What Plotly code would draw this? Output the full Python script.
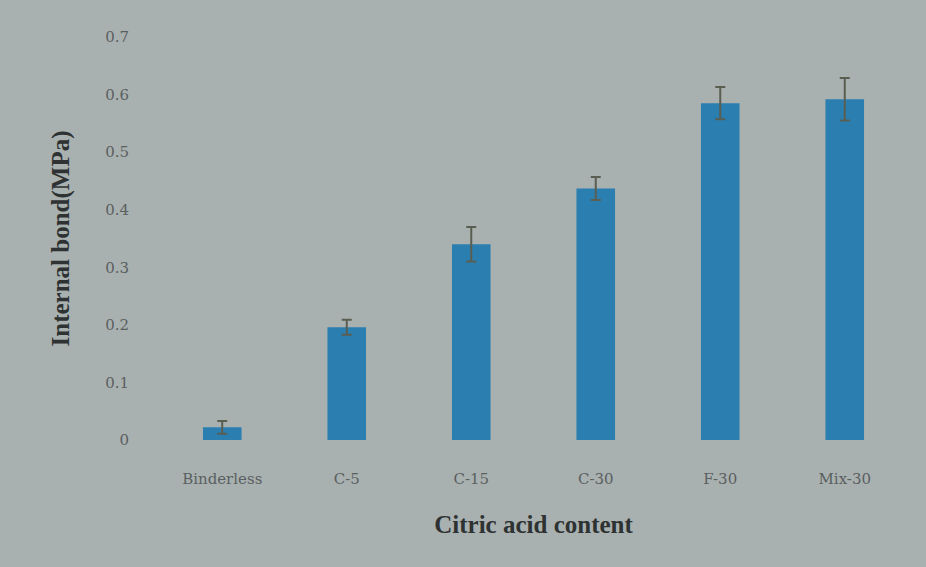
import plotly.graph_objects as go

categories = ["Binderless", "C-5", "C-15", "C-30", "F-30", "Mix-30"]
values = [0.022, 0.196, 0.340, 0.437, 0.585, 0.592]
errors = [0.011, 0.013, 0.030, 0.020, 0.028, 0.037]
y_ticks = [0, 0.1, 0.2, 0.3, 0.4, 0.5, 0.6, 0.7]
y_tick_text = ["0", "0.1", "0.2", "0.3", "0.4", "0.5", "0.6", "0.7"]

bg = "#a9b1b0"
fig = go.Figure(go.Bar(
    x=categories, y=values,
    marker=dict(color="#2b7fb0", line=dict(width=0)),
    width=0.31,
    error_y=dict(type="data", array=errors, visible=True,
                 color="#5a5e50", thickness=2, width=5),
))
fig.update_layout(
    width=926, height=567,
    paper_bgcolor=bg, plot_bgcolor=bg,
    margin=dict(l=160, r=19, t=37, b=127),
    showlegend=False,
    font=dict(family="Liberation Serif", color="#4a4f50"),
    xaxis=dict(
        title=dict(text="<b>Citric acid content</b>", font=dict(size=25, color="#2e3232"), standoff=28),
        tickfont=dict(size=15, color="#5a5f60", family="DejaVu Serif"),
        showgrid=False, showline=False, ticks="",
        ticklabelstandoff=28,
    ),
    yaxis=dict(
        title=dict(text="<b>Internal bond(MPa)</b>", font=dict(size=25, color="#2e3232"), standoff=28),
        range=[0, 0.7], tickvals=y_ticks, ticktext=y_tick_text,
        tickfont=dict(size=15, color="#5a5f60", family="DejaVu Serif"),
        showgrid=False, showline=False, zeroline=False, ticks="",
        ticklabelstandoff=30,
    ),
)
fig.write_html("out.html", config={"displayModeBar": False},
               post_script="document.body.style.margin='0';document.body.style.background='%s';" % bg)
